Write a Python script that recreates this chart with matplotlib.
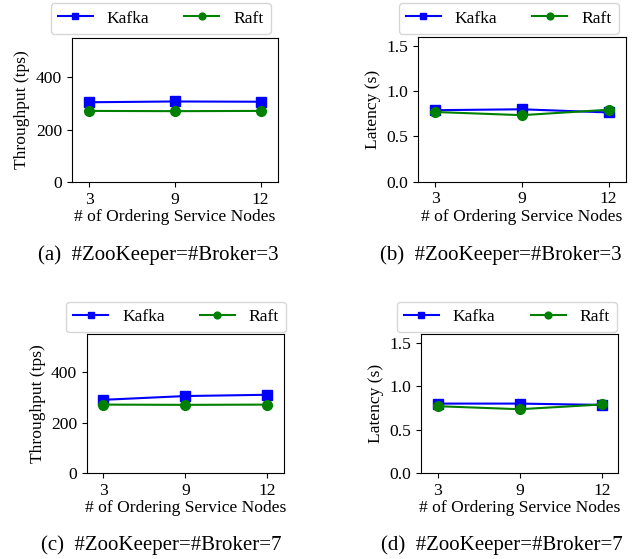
import matplotlib
matplotlib.use("Agg")
import matplotlib.pyplot as plt

plt.rcParams['font.family'] = ['Liberation Serif', 'DejaVu Serif']
plt.rcParams['font.size'] = 12.6

nodes = ["3", "9", "12"]
kafka_tp_3 = [305, 308, 307]
raft_tp_3 = [272, 271, 272]
kafka_lat_3 = [0.79, 0.80, 0.765]
raft_lat_3 = [0.77, 0.735, 0.795]
kafka_tp_7 = [290, 305, 310]
raft_tp_7 = [271, 270, 271]
kafka_lat_7 = [0.80, 0.80, 0.785]
raft_lat_7 = [0.77, 0.735, 0.79]

captions = ["(a)  #ZooKeeper=#Broker=3", "(b)  #ZooKeeper=#Broker=3",
            "(c)  #ZooKeeper=#Broker=7", "(d)  #ZooKeeper=#Broker=7"]

fig = plt.figure(figsize=(6.4, 5.59), dpi=100)

panels = [
    dict(rect=[0.1125, 0.674, 0.434 - 0.1125, 0.932 - 0.674], k=kafka_tp_3, r=raft_tp_3,
         ylabel="Throughput (tps)", ylim=(0, 550), yticks=[0, 200, 400], fmt="{:.0f}",
         leg=(0.251, 0.967), cap=(0.247, 0.544)),
    dict(rect=[0.653, 0.675, 0.978 - 0.653, 0.934 - 0.675], k=kafka_lat_3, r=raft_lat_3,
         ylabel="Latency (s)", ylim=(0, 1.6), yticks=[0.0, 0.5, 1.0, 1.5], fmt="{:.1f}",
         leg=(0.795, 0.967), cap=(0.783, 0.544)),
    dict(rect=[0.136, 0.154, 0.443 - 0.136, 0.402 - 0.154], k=kafka_tp_7, r=raft_tp_7,
         ylabel="Throughput (tps)", ylim=(0, 550), yticks=[0, 200, 400], fmt="{:.0f}",
         leg=(0.275, 0.433), cap=(0.252, 0.025)),
    dict(rect=[0.658, 0.154, 0.966 - 0.658, 0.402 - 0.154], k=kafka_lat_7, r=raft_lat_7,
         ylabel="Latency (s)", ylim=(0, 1.6), yticks=[0.0, 0.5, 1.0, 1.5], fmt="{:.1f}",
         leg=(0.792, 0.433), cap=(0.784, 0.025)),
]

for p, cap in zip(panels, captions):
    ax = fig.add_axes(p["rect"])
    x = list(range(len(nodes)))
    ax.plot(x, p["k"], color="blue", marker="s", markersize=7, linewidth=1.5, label="Kafka")
    ax.plot(x, p["r"], color="green", marker="o", markersize=7, linewidth=1.5, label="Raft")
    ax.set_xlim(-0.2, 2.2)
    ax.set_xticks(x)
    ax.set_xticklabels(nodes)
    ax.set_ylim(*p["ylim"])
    ax.set_yticks(p["yticks"])
    ax.set_yticklabels([p["fmt"].format(v) for v in p["yticks"]])
    ax.set_ylabel(p["ylabel"])
    ax.set_xlabel("# of Ordering Service Nodes", labelpad=1)
    ax.legend(loc="center", bbox_to_anchor=p["leg"], bbox_transform=fig.transFigure,
              ncol=2, frameon=True, columnspacing=2.0, markerscale=0.7)
    fig.text(p["cap"][0], p["cap"][1], cap, ha="center", va="center", fontsize=15)

fig.savefig("out.png", dpi=100)
